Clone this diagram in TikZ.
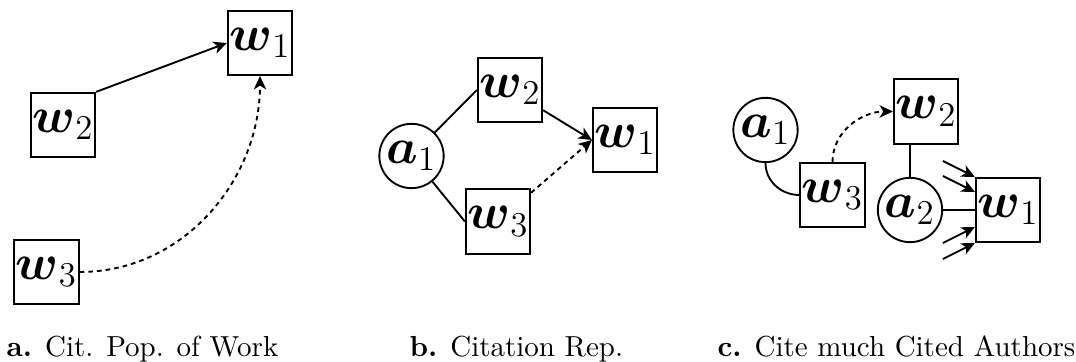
\documentclass[tikz,border=0pt]{standalone}
\usepackage{amsmath}
\usetikzlibrary{arrows.meta,calc}
\begin{document}
\begin{tikzpicture}[x=0.345pt,y=0.345pt,
  box/.style={draw,line width=0.65pt,minimum size=22.2pt,inner sep=0pt,font=\LARGE},
  circ/.style={draw,circle,line width=0.65pt,minimum size=22.2pt,inner sep=0pt,font=\LARGE},
  link/.style={line width=0.65pt},
  arr/.style={line width=0.65pt,-{Stealth[length=4.6pt,width=4.3pt,inset=1.3pt]}},
  dsh/.style={dash pattern=on 1.6pt off 1.4pt},
  captext/.style={anchor=base west,inner sep=0pt}]
\useasboundingbox (0,0) rectangle (1076,362);
% panel a
\node[box] (aw1) at (260,319) {$\boldsymbol{w}_1$};
\node[box] (aw2) at (63,237) {$\boldsymbol{w}_2$};
\node[box] (aw3) at (46.5,90) {$\boldsymbol{w}_3$};
\draw[arr] (aw2.north east) -- (aw1.west);
\draw[arr,dsh] (aw3.east) to[out=0,in=-90] (aw1.south);
\node[captext] (capa) at (6,5) {\textbf{a.}\hspace{0.45em}Cit. Pop. of Work};
% panel b
\node[circ] (ba1) at (411.5,206) {$\boldsymbol{a}_1$};
\node[box] (bw2) at (510,272) {$\boldsymbol{w}_2$};
\node[box] (bw3) at (498,140.5) {$\boldsymbol{w}_3$};
\node[box] (bw1) at (625,222) {$\boldsymbol{w}_1$};
\draw[link] (ba1) -- (bw2.west);
\draw[link] (ba1) -- (bw3.west);
\draw[arr] (bw2) -- (bw1.west);
\draw[arr,dsh] (bw3) -- (bw1.west);
\node[captext] (capb) at (409,5) {\textbf{b.}\hspace{0.45em}Citation Rep.};
% panel c
\node[circ] (ca1) at (765.5,232) {$\boldsymbol{a}_1$};
\node[box] (cw3) at (832.5,167) {$\boldsymbol{w}_3$};
\node[box] (cw2) at (926,250.5) {$\boldsymbol{w}_2$};
\node[circ] (ca2) at (910,152) {$\boldsymbol{a}_2$};
\node[box] (cw1) at (1008,152) {$\boldsymbol{w}_1$};
\draw[link] (ca1.south) to[out=-90,in=180] (cw3.west);
\draw[arr,dsh] (cw3.north) to[out=90,in=180] (cw2.west);
\draw[link] (ca2.north) -- (ca2.north |- cw2.south);
\draw[link] (ca2.east) -- (cw1.west);
\coordinate (t1) at ($(cw1.west)+(0,33)$);
\coordinate (t2) at ($(cw1.west)+(0,18)$);
\coordinate (t3) at ($(cw1.west)+(0,-17)$);
\coordinate (t4) at ($(cw1.west)+(0,-33)$);
\coordinate (s1) at ($(t1)+(-32,16)$);
\coordinate (s2) at ($(t2)+(-32,16)$);
\coordinate (s3) at ($(t3)+(-32,-16)$);
\coordinate (s4) at ($(t4)+(-32,-16)$);
\draw[arr] (s1) -- (t1);
\draw[arr] (s2) -- (t2);
\draw[arr] (s3) -- (t3);
\draw[arr] (s4) -- (t4);
\node[captext] (capc) at (717,5) {\textbf{c.}\hspace{0.45em}Cite much Cited Authors};
\end{tikzpicture}
\end{document}
